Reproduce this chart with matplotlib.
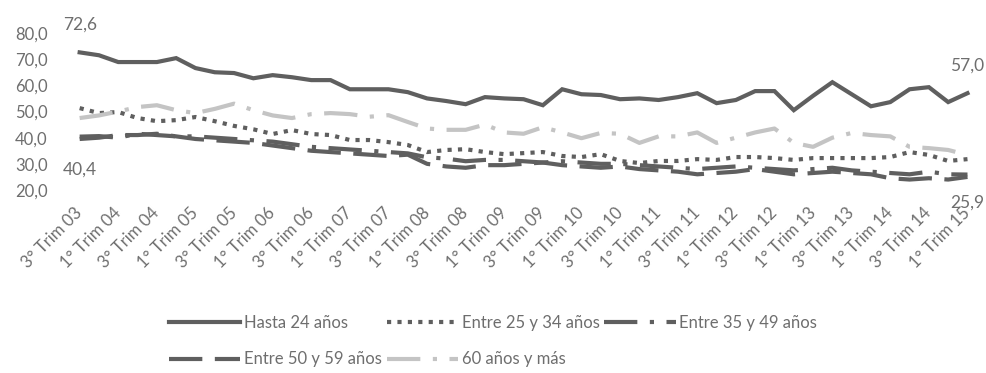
import matplotlib
matplotlib.use("Agg")
import matplotlib.pyplot as plt

plt.rcParams['font.family'] = ['Lato', 'DejaVu Sans']

# trimestres 3T03 .. 1T15
trimestres = []
for anio in range(3, 16):
    for q in (1, 2, 3, 4):
        if (anio == 3 and q < 3) or (anio == 15 and q > 1):
            continue
        trimestres.append(f"{q}° Trim {anio:02d}")

hasta_24 = [72.6, 71.5, 68.9, 68.9, 68.9, 70.4, 66.6, 65.0, 64.7, 62.7,
            63.9, 63.1, 62.0, 62.0, 58.5, 58.5, 58.5, 57.4, 55.0, 54.0,
            52.8, 55.5, 55.0, 54.7, 52.4, 58.5, 56.6, 56.3, 54.7, 55.0,
            54.4, 55.5, 57.0, 53.2, 54.4, 57.8, 57.8, 50.5, 56.0, 61.2,
            56.6, 52.0, 53.6, 58.5, 59.3, 53.6, 57.0]
entre_25_34 = [51.3, 49.4, 49.8, 47.5, 46.3, 46.7, 47.9, 46.3, 44.5, 43.2,
               41.4, 42.9, 41.4, 41.0, 39.1, 39.1, 38.3, 37.2, 34.5, 35.3,
               35.6, 34.5, 33.7, 34.1, 34.5, 33.0, 32.6, 33.7, 31.1, 30.3,
               31.1, 31.1, 31.8, 31.5, 32.6, 32.6, 32.2, 31.5, 32.2, 32.2,
               32.2, 32.2, 32.6, 34.5, 33.4, 31.1, 31.8]
entre_35_49 = [40.4, 40.6, 40.0, 41.5, 41.0, 40.5, 40.5, 40.0, 39.5, 39.0,
               38.5, 37.5, 36.5, 36.0, 35.5, 35.0, 34.5, 34.0, 32.5, 32.0,
               31.0, 31.5, 31.5, 31.0, 30.5, 31.0, 30.5, 30.0, 30.0, 29.5,
               29.0, 28.5, 28.0, 28.5, 29.0, 28.5, 28.0, 27.5, 28.0, 28.5,
               27.5, 27.0, 26.5, 26.0, 27.0, 26.0, 25.9]
entre_50_59 = [39.5, 40.0, 41.0, 41.0, 41.5, 40.5, 39.5, 39.0, 38.5, 38.0,
               37.0, 36.0, 35.0, 34.5, 34.0, 33.5, 33.0, 33.5, 30.0, 29.0,
               28.5, 29.5, 29.5, 30.0, 30.5, 29.5, 29.0, 28.5, 29.0, 28.0,
               27.5, 27.0, 26.0, 26.5, 27.0, 28.0, 27.0, 26.0, 26.5, 27.0,
               26.5, 26.0, 24.5, 24.0, 24.5, 24.0, 25.0]
mas_60 = [47.5, 48.5, 50.0, 51.7, 52.4, 50.5, 49.4, 51.0, 53.0, 50.5,
          48.5, 47.5, 49.0, 49.4, 49.0, 48.0, 48.6, 46.0, 43.5, 43.0,
          43.0, 45.0, 42.0, 41.5, 44.0, 42.0, 39.8, 41.8, 41.5, 38.0,
          40.5, 40.5, 42.0, 38.0, 40.0, 42.0, 43.5, 38.0, 36.5, 40.0,
          41.8, 41.0, 40.5, 36.5, 36.0, 35.3, 33.4]

gris = '#5f5f5f'
gris_texto = '#6e6e6e'
gris_claro = '#c4c4c4'
lw = 3.0

fig = plt.figure(figsize=(9.86, 3.73), dpi=100)
ax = fig.add_axes([0.071, 0.4906, 0.92, 0.4209])

x = list(range(len(trimestres)))
l1, = ax.plot(x, hasta_24, color=gris, lw=lw, solid_joinstyle='miter')
l2, = ax.plot(x, entre_25_34, color=gris, lw=lw, linestyle=(0, (1, 1.5)))
l3, = ax.plot(x, entre_35_49, color=gris, lw=lw, linestyle=(0, (8, 3, 1, 3)))
l4, = ax.plot(x, entre_50_59, color=gris, lw=lw, linestyle=(0, (8, 3)))
l5, = ax.plot(x, mas_60, color=gris_claro, lw=lw, linestyle=(0, (8, 3, 1, 3)))

# etiquetas de inicio y fin
def etiqueta(i, serie, dy):
    ax.annotate(f"{serie[i]:.1f}".replace('.', ','), (x[i], serie[i]),
                xytext=(0, dy), textcoords='offset points',
                ha='center', va='center', fontsize=12.5, color=gris_texto)

etiqueta(0, hasta_24, 20)
etiqueta(-1, hasta_24, 20)
etiqueta(0, entre_35_49, -24)
etiqueta(-1, entre_35_49, -20)

ax.set_xlim(-0.5, len(x) - 0.5)
ax.set_ylim(20, 80)
ax.set_yticks(range(20, 81, 10))
ax.set_yticklabels([f"{v},0" for v in range(20, 81, 10)])
ax.set_xticks(x[::2])
ax.set_xticklabels(trimestres[::2], rotation=45, ha='right', va='center',
                   rotation_mode='anchor')
ax.tick_params(axis='both', length=0, colors=gris_texto, labelsize=12)
ax.tick_params(axis='y', pad=16)
ax.tick_params(axis='x', pad=15)
for s in ax.spines.values():
    s.set_visible(False)

handles = [l1, l4, l2, l5, l3]
labels = ['Hasta 24 años', 'Entre 50 y 59 años', 'Entre 25 y 34 años',
          '60 años y más', 'Entre 35 y 49 años']
leg = fig.legend(handles, labels, ncol=3, loc='center',
                 bbox_to_anchor=(0.5, (373 - 341) / 373), frameon=False,
                 fontsize=12, handlelength=4.3, handletextpad=0.2,
                 columnspacing=0.3, labelspacing=1.25)
for t in leg.get_texts():
    t.set_color(gris_texto)

fig.savefig('out.png', dpi=100)
